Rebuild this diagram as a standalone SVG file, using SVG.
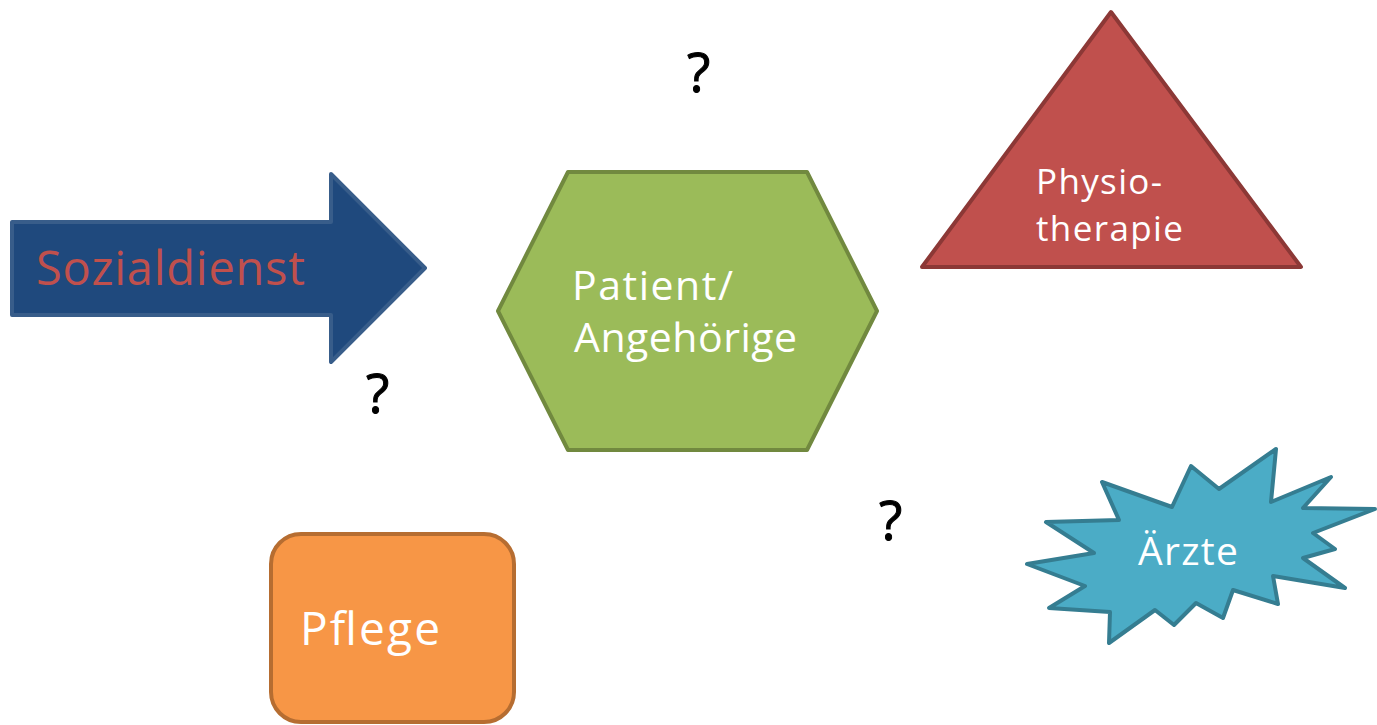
<svg xmlns="http://www.w3.org/2000/svg" width="1377" height="725" viewBox="0 0 1377 725">
<style>
.lbl{font-family:"Comic Sans MS","Open Sans",sans-serif;fill:#ffffff}
.q{font-family:"Comic Sans MS","Open Sans",sans-serif;font-size:54px;fill:#000000;stroke:#000000;stroke-width:1}
.shape{stroke-width:4;stroke-linejoin:round}
</style>
<rect width="1377" height="725" fill="#ffffff"/>
<g id="connectors"></g>
<g id="sozialdienst">
<polygon class="shape" points="12,222 331,222 331,174 425,268 331,362 331,315 12,315" fill="#1F497D" stroke="#385D8A" stroke-width="3" stroke-linejoin="miter"/>
<text x="36" y="285" font-family="&quot;Comic Sans MS&quot;,&quot;Open Sans&quot;,sans-serif" font-size="47" fill="#C0504D" textLength="269">Sozialdienst</text>
</g>
<g id="patient">
<polygon class="shape" points="498,311 568,172 807,172 877,311 807,450 568,450" fill="#9BBB59" stroke="#71893F"/>
<text class="lbl" x="572" y="300" font-size="41" textLength="161">Patient/</text>
<text class="lbl" x="574" y="352" font-size="41" textLength="223">Angehörige</text>
</g>
<g id="physio">
<polygon class="shape" points="1111,12 1301,267 922,267" fill="#C0504D" stroke="#8C3836"/>
<text class="lbl" x="1036" y="194" font-size="35" textLength="126">Physio-</text>
<text class="lbl" x="1036" y="241" font-size="35" textLength="147">therapie</text>
</g>
<g id="pflege">
<rect class="shape" x="271" y="534" width="243" height="188" rx="30" ry="30" fill="#F79646" stroke="#B66D31"/>
<text class="lbl" x="300" y="645" font-size="46" textLength="140">Pflege</text>
</g>
<g id="aerzte">
<polygon class="shape" points="1102,482 1172,507 1191,466 1219,489 1276,449 1271,502 1331,477 1303,508 1375,509 1313,533 1335,549 1303,558 1345,588 1273,576 1278,604 1233,590 1223,618 1196,603 1174,625 1155,610 1109,643 1110,612 1049,608 1085,586 1027,564 1094,553 1046,522 1119,520" fill="#4BACC6" stroke="#357D91"/>
<text x="1138" y="565" font-family="&quot;Open Sans&quot;,sans-serif" font-size="39" fill="#ffffff" textLength="100">Ärzte</text>
</g>
<g id="questions">
<text class="q" x="687" y="92">?</text>
<text class="q" x="366" y="413">?</text>
<text class="q" x="879" y="540">?</text>
</g>
</svg>
